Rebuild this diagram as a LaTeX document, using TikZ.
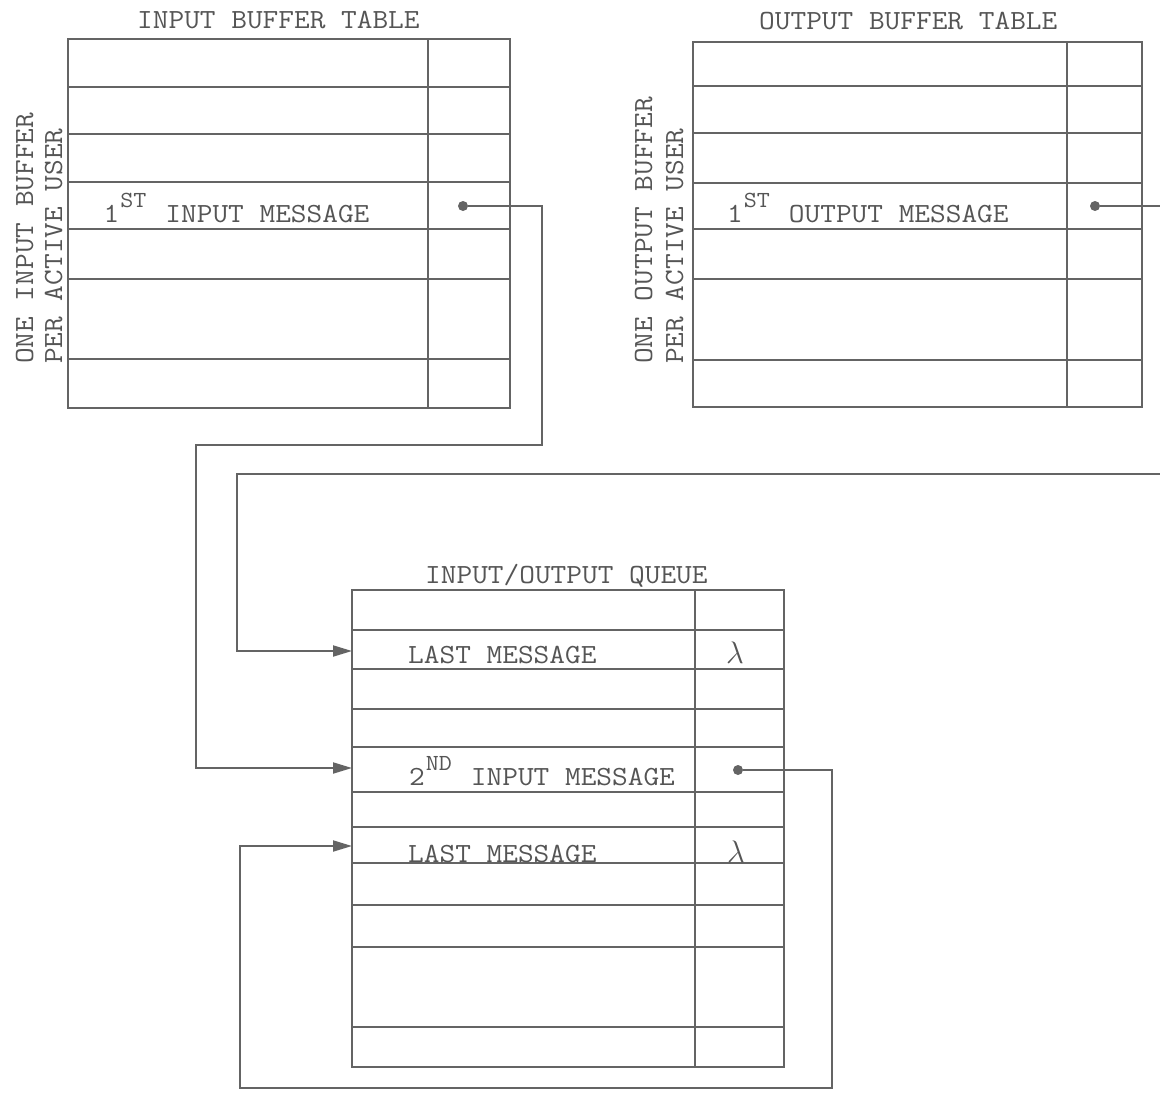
\documentclass[tikz,border=0pt]{standalone}
\usepackage{fontspec}
\newfontfamily\tw{Latin Modern Mono}[FakeStretch=1.1]
\usetikzlibrary{arrows.meta}
\definecolor{ink}{RGB}{100,100,100}
\definecolor{txt}{RGB}{85,85,85}
\newcommand\ordn[2]{#1\hspace{1pt}\raisebox{14.5pt}{\fontsize{23}{23}\selectfont #2}\hspace{19pt}}
\begin{document}
\begin{tikzpicture}[x=1pt,y=-1pt,
  frame/.style={draw=ink, line width=2.2pt, inner sep=0pt, outer sep=0pt, anchor=north west},
  rule/.style={draw=ink, line width=2pt},
  link/.style={draw=ink, line width=2pt},
  arr/.style={link, -{Triangle[length=19pt,width=11pt]}},
  ptr/.style={circle, fill=ink, inner sep=0pt, minimum size=10pt},
  lbl/.style={text=txt, font=\tw\fontsize{27.7}{29}\selectfont, inner sep=0pt, anchor=base west},
  side/.style={lbl, rotate=90},
  lam/.style={text=txt, font=\fontsize{24.88}{26}\selectfont, inner sep=0pt, anchor=base}]
\useasboundingbox (0,0) rectangle (1160,1095);

% tables
\node[frame, minimum width=442pt, minimum height=369pt] (inT) at (68,39) {};
\node[frame, minimum width=449pt, minimum height=365pt] (outT) at (693,42) {};
\node[frame, minimum width=432pt, minimum height=477pt] (q) at (352,590) {};

\foreach \yy in {87,134,182,229,279,359}
  \draw[rule] (inT.west |- 0,\yy) -- (inT.east |- 0,\yy);
\draw[rule] (428,0 |- inT.north) -- (428,0 |- inT.south);

\foreach \yy in {86,133,183,229,279,360}
  \draw[rule] (outT.west |- 0,\yy) -- (outT.east |- 0,\yy);
\draw[rule] (1067,0 |- outT.north) -- (1067,0 |- outT.south);

\foreach \yy in {630,669,709,747,792,827,863,905,947,1027}
  \draw[rule] (q.west |- 0,\yy) -- (q.east |- 0,\yy);
\draw[rule] (695,0 |- q.north) -- (695,0 |- q.south);

% titles and side labels
\node[lbl] (tInT) at (137,28) {INPUT BUFFER TABLE};
\node[lbl] (tOutT) at (759,29) {OUTPUT BUFFER TABLE};
\node[lbl] (tQ) at (425,583) {INPUT/OUTPUT QUEUE};
\node[side] (sIn1) at (33,364) {ONE INPUT BUFFER};
\node[side] (sIn2) at (62,364) {PER ACTIVE USER};
\node[side] (sOut1) at (652,364) {ONE OUTPUT BUFFER};
\node[side] (sOut2) at (683,364) {PER ACTIVE USER};

% row texts
\node[lbl] (m1) at (103.5,222) {\ordn{1}{ST}INPUT MESSAGE};
\node[lbl] (m2) at (727,222) {\ordn{1}{ST}OUTPUT MESSAGE};
\node[lbl] (m3) at (408,663) {LAST MESSAGE};
\node[lbl] (m4) at (409,785) {\ordn{2}{ND}INPUT MESSAGE};
\node[lbl] (m5) at (408,862) {LAST MESSAGE};
\node[lam] (l1) at (735,663) {\scalebox{1.25}{$\lambda$}};
\node[lam] (l2) at (736,862) {\scalebox{1.25}{$\lambda$}};

% pointers
\node[ptr] (pIn) at (463,206) {};
\node[ptr] (pOut) at (1095,206) {};
\node[ptr] (pQ) at (738,770) {};
\coordinate (eOut) at (1160,206);
\coordinate (eBack) at (1160,474);
\coordinate (qA) at (q.west |- 0,651);
\coordinate (qB) at (q.west |- 0,768);
\coordinate (qC) at (q.west |- 0,846);

\draw[arr] (pIn) -- (542,206) -- (542,445) -- (196,445) |- (qB);
\draw[link] (pOut) -- (eOut);
\draw[arr] (eBack) -- (237,474) |- (qA);
\draw[arr] (pQ) -- (832,770) -- (832,1088) -- (240,1088) |- (qC);
\end{tikzpicture}
\end{document}
